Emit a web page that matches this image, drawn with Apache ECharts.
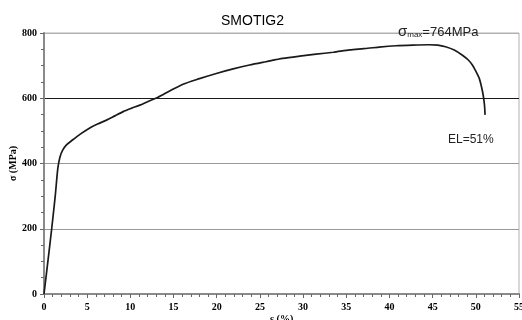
<!DOCTYPE html>
<html>
<head>
<meta charset="utf-8">
<script src="https://cdn.jsdelivr.net/npm/echarts@6/dist/echarts.min.js"></script>
<style>
  html, body { margin: 0; padding: 0; background: #fff; }
  #chart { width: 522px; height: 320px; }
</style>
</head>
<body>
<div id="chart"></div>
<script>
// Engineering strain (%) and stress (MPa) of the tensile test
const strain = [0, 0.45, 0.89, 1.3, 1.6, 1.85, 2.15, 2.6, 3.3, 4.2, 5.3, 6.2, 7.24, 8.2, 9.17, 10.1, 11.1, 12.1, 13.2, 14.6, 16.1, 18.0, 19.95, 21.9, 23.8, 25.7, 27.65, 29.6, 31.5, 33.5, 35.4, 37.0, 38.8, 40.75, 42.7, 44.6, 45.6, 46.5, 47.5, 48.45, 49.1, 49.6, 50.0, 50.4, 50.65, 50.85, 51.0, 51.07];
const stress = [0, 100, 200, 300, 385, 420, 440, 457, 472, 490, 509, 521, 533, 546, 559, 569, 579, 591, 603, 623, 643, 660, 676, 690, 702, 712, 722, 729, 735, 741, 748, 752, 757, 761, 763, 764, 763, 758, 748, 732, 718, 702, 683, 661, 636, 610, 580, 549];

const xTicks = { min: 0, max: 55, step: 5 };
const yTicks = { min: 0, max: 800, step: 200 };
const titleText = 'SMOTIG2';
const maxText = '764MPa';
const elText = 'EL=51%';

const points = strain.map((x, i) => [x, stress[i]]);

const axisFont = { fontFamily: 'Liberation Serif', fontWeight: 'bold', fontSize: 10, color: '#000' };

const chart = echarts.init(document.getElementById('chart'), null, { renderer: 'canvas' });
chart.setOption({
  animation: false,
  backgroundColor: '#fff',
  title: {
    text: titleText,
    left: 216, top: 9,
    textStyle: { fontFamily: 'Liberation Sans', fontSize: 14, fontWeight: 'normal', color: '#000' }
  },
  grid: {
    left: 44, right: 3, top: 33, bottom: 26,
    outerBoundsMode: 'none',
    containLabel: false,
    show: true, borderColor: '#b0b0b0', borderWidth: 1
  },
  xAxis: {
    type: 'value',
    min: xTicks.min, max: xTicks.max, interval: xTicks.step,
    name: 'ε (%)',
    nameLocation: 'middle', nameGap: 20,
    nameMoveOverlap: false,
    nameTextStyle: axisFont,
    axisLine: { show: true, lineStyle: { color: '#8a8a8a', width: 2 } },
    axisTick: { show: true, length: 4, lineStyle: { color: '#666' } },
    minorTick: { show: true, splitNumber: 5, length: 3, lineStyle: { color: '#666' } },
    splitLine: { show: false },
    axisLabel: Object.assign({ margin: 8 }, axisFont)
  },
  yAxis: {
    type: 'value',
    min: yTicks.min, max: yTicks.max, interval: yTicks.step,
    name: 'σ (MPa)',
    nameLocation: 'middle', nameGap: 26, nameRotate: 90,
    nameMoveOverlap: false,
    nameTextStyle: axisFont,
    axisLine: { show: true, lineStyle: { color: '#8a8a8a', width: 2 } },
    axisTick: { show: true, length: 4, lineStyle: { color: '#666' } },
    minorTick: { show: true, splitNumber: 4, length: 3, lineStyle: { color: '#666' } },
    splitLine: { show: true, lineStyle: { color: ['#999', '#999', '#999', '#1a1a1a', '#b0b0b0'], width: 1 } },
    axisLabel: Object.assign({ margin: 7 }, axisFont)
  },
  series: [{
    type: 'line',
    data: points,
    showSymbol: false,
    smooth: 0.25,
    lineStyle: { color: '#1a1a1a', width: 1.7 },
    z: 5
  }],
  graphic: [
    {
      type: 'text', left: 398, top: 24, z: 10,
      style: {
        text: '{s|σ}{m|max}{t|=' + maxText + '}',
        rich: {
          s: { fontFamily: 'Liberation Sans', fontSize: 15, fill: '#222', verticalAlign: 'bottom' },
          m: { fontFamily: 'Liberation Sans', fontSize: 8, fill: '#222', verticalAlign: 'bottom' },
          t: { fontFamily: 'Liberation Sans', fontSize: 13, fill: '#222', verticalAlign: 'bottom' }
        }
      }
    },
    {
      type: 'text', left: 448, top: 134, z: 10,
      style: { text: elText, fontFamily: 'Liberation Sans', fontSize: 12, fill: '#222' }
    }
  ]
});
</script>
</body>
</html>
